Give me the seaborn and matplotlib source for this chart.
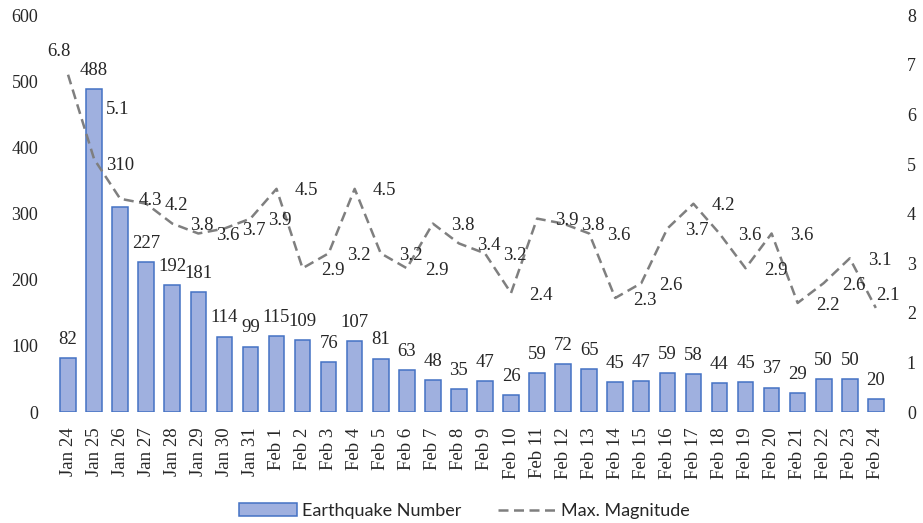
import numpy as np
import pandas as pd
import matplotlib
matplotlib.use("Agg")
import matplotlib.pyplot as plt
import seaborn as sns
from matplotlib.patches import Patch
from matplotlib.lines import Line2D

dias = ["Jan 24", "Jan 25", "Jan 26", "Jan 27", "Jan 28", "Jan 29", "Jan 30", "Jan 31"] + \
       ["Feb %d" % d for d in range(1, 25)]
sismos = [82, 488, 310, 227, 192, 181, 114, 99, 115, 109, 76, 107, 81, 63, 48, 35,
          47, 26, 59, 72, 65, 45, 47, 59, 58, 44, 45, 37, 29, 50, 50, 20]
magnitud = [6.8, 5.1, 4.3, 4.2, 3.8, 3.6, 3.7, 3.9, 4.5, 2.9, 3.2, 4.5, 3.2, 2.9, 3.8, 3.4,
            3.2, 2.4, 3.9, 3.8, 3.6, 2.3, 2.6, 3.7, 4.2, 3.6, 2.9, 3.6, 2.2, 2.6, 3.1, 2.1]

df = pd.DataFrame({"dia": dias, "sismos": sismos, "magnitud": magnitud})

sns.set_style("white")
plt.rcParams["font.family"] = ["Liberation Serif", "DejaVu Serif"]

azul = "#9FB0DF"
borde = "#4472C4"
gris = "#7F7F7F"

fig = plt.figure(figsize=(9.23, 5.23), dpi=100)
ax = fig.add_axes([0.0596, 0.212, 0.9034, 0.759])

sns.barplot(data=df, x="dia", y="sismos", color=azul, edgecolor=borde,
            linewidth=1.1, width=0.6, saturation=1, ax=ax)
ax.set_ylim(0, 600)
ax.set_yticks(range(0, 601, 100))
ax.set_xlabel("")
ax.set_ylabel("")
ax.tick_params(axis="y", length=0, pad=12, labelsize=13)
ax.tick_params(axis="x", length=0, pad=11, labelsize=13.5, labelrotation=90)
for s in ax.spines.values():
    s.set_visible(False)

# etiquetas de barras (algunas movidas como en el original)
ajuste_barras = {2: (0, 30)}
for i, v in enumerate(sismos):
    off = ajuste_barras.get(i, (0, 13.5))
    ax.annotate(str(v), (i, v), xytext=off, textcoords="offset points",
                ha="center", va="center", fontsize=13.5)

ax2 = ax.twinx()
sns.lineplot(data=df, x="dia", y="magnitud", sort=False, color=gris,
             linewidth=1.8, dashes=False, ax=ax2)
ax2.lines[0].set_dashes((4, 2.2))
ax2.set_ylim(0, 8)
ax2.set_yticks(range(0, 9))
ax2.set_ylabel("")
ax2.tick_params(axis="y", length=0, pad=13, labelsize=13)
for s in ax2.spines.values():
    s.set_visible(False)
ax.set_xlim(-0.5, len(dias) - 0.5)

ajuste_mag = {0: (-6.5, 16.5), 1: (17, 36), 31: (8.6, 8.6)}
for i, v in enumerate(magnitud):
    off = ajuste_mag.get(i, (21.5, -1.5))
    ax2.annotate("%.1f" % v, (i, v), xytext=off, textcoords="offset points",
                 ha="center", va="center", fontsize=13.5)

handles = [Patch(facecolor=azul, edgecolor=borde, linewidth=1.1),
           Line2D([], [], color=gris, linewidth=1.8, dashes=(4, 2.2))]
fig.legend(handles, ["Earthquake Number", "Max. Magnitude"], loc="center",
           bbox_to_anchor=(0.503, 0.023), ncol=2, frameon=False,
           prop={"family": "Lato", "size": 13}, handlelength=3.2,
           handleheight=0.7, handletextpad=0.3, columnspacing=2.0)

fig.savefig("out.png", dpi=100)
